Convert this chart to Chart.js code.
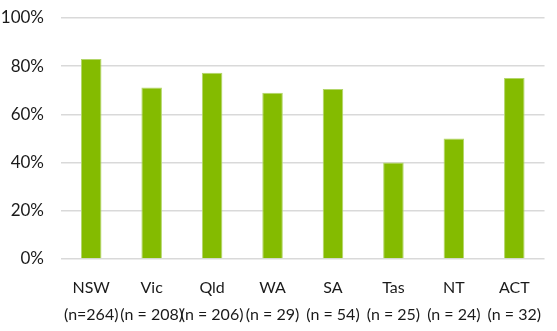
<!DOCTYPE html>
<html>
<head>
<meta charset="utf-8">
<script src="https://cdn.jsdelivr.net/npm/chart.js@4"></script>
<style>
  html, body { margin: 0; padding: 0; background: #fff; }
  #wrap { width: 557px; height: 331px; position: relative; }
</style>
</head>
<body>
<div id="wrap"><canvas id="chart"></canvas></div>
<script>
// Штаты и размеры выборок
const states = ['NSW', 'Vic', 'Qld', 'WA', 'SA', 'Tas', 'NT', 'ACT'];
const sampleLabels = ['(n=264)', '(n = 208)', '(n = 206)', '(n = 29)', '(n = 54)', '(n = 25)', '(n = 24)', '(n = 32)'];
// Доли в процентах
const shares = [83, 71.2, 77.3, 69, 70.5, 40, 50, 75.1];
const yTicks = [0, 20, 40, 60, 80, 100];

const ctx = document.getElementById('chart').getContext('2d');
const labels = states.map((s, i) => [s, sampleLabels[i]]);

const chart = new Chart(ctx, {
  type: 'bar',
  data: {
    labels: labels,
    datasets: [
      {
        data: shares,
        backgroundColor: '#84bb00',
        borderColor: '#b3d66a',
        borderWidth: { top: 1, left: 1, right: 1, bottom: 0 },
        borderSkipped: 'bottom',
        categoryPercentage: 1,
        barPercentage: 0.34,
      },
    ],
  },
  options: {
    responsive: true,
    maintainAspectRatio: false,
    animation: false,
    layout: { padding: 0 },
    plugins: {
      legend: { display: false },
      tooltip: { enabled: false },
    },
    scales: {
      x: {
        grid: { display: false, drawTicks: false },
        border: { display: false },
        ticks: {
          color: '#1a1a1a',
          font: { family: 'Lato', size: 16, lineHeight: 1.65 },
          maxRotation: 0,
          autoSkip: false,
          padding: 16,
        },
        afterFit: (scale) => { scale.height = 72; },
      },
      y: {
        min: 0,
        max: 100,
        afterBuildTicks: (scale) => { scale.ticks = yTicks.map((v) => ({ value: v })); },
        grid: { color: '#d9d9d9', lineWidth: 1.5, drawTicks: false },
        border: { display: false },
        ticks: {
          color: '#1a1a1a',
          font: { family: 'Lato', size: 17 },
          padding: 17,
          callback: (v) => v + '%',
        },
        afterFit: (scale) => {
          scale.width = 61;
          scale.paddingTop = 18; // верхний отступ области графика
          scale.paddingBottom = 0;
        },
      },
    },
  },
});
</script>
</body>
</html>
